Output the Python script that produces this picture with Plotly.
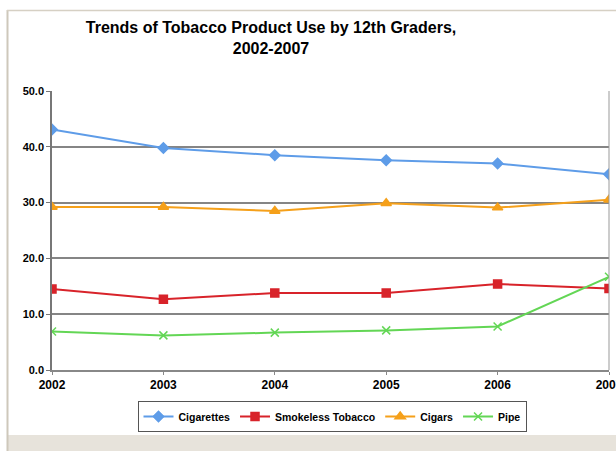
import plotly.graph_objects as go

years = [2002, 2003, 2004, 2005, 2006, 2007]
cigarettes = [43.1, 39.8, 38.5, 37.6, 37.0, 35.1]
smokeless = [14.5, 12.7, 13.8, 13.8, 15.4, 14.6]
cigars = [29.2, 29.2, 28.5, 29.9, 29.1, 30.5]
pipe = [6.9, 6.2, 6.7, 7.1, 7.8, 16.7]
y_ticks = [0, 10, 20, 30, 40, 50]
y_tick_labels = ["0.0", "10.0", "20.0", "30.0", "40.0", "50.0"]

FONT = "Arial, Liberation Sans, sans-serif"

series = [
    ("Cigarettes", cigarettes, "#5E9CE8", "diamond", 8),
    ("Smokeless Tobacco", smokeless, "#D8232A", "square", 8),
    ("Cigars", cigars, "#F5A01A", "triangle-up", 9),
    ("Pipe", pipe, "#63D655", "x-thin-open", 8),
]

fig = go.Figure()
for name, vals, color, sym, sz in series:
    fig.add_trace(go.Scatter(
        x=years, y=vals, name=f"<b>{name}</b>", mode="lines+markers",
        line=dict(color=color, width=2),
        marker=dict(symbol=sym, size=sz, color=color,
                    line=dict(color=color, width=1.5)),
    ))

L, R, T, B = 52, 7, 91, 81
W, H = 616, 451
pw, ph = W - L - R, H - T - B

def px(x):
    return (x - L) / pw

def py(y):
    return (H - B - y) / ph

shapes = [
    dict(type="rect", xref="paper", yref="paper", x0=px(8), x1=px(620),
         y0=py(435), y1=py(455), fillcolor="#E7E3DB", line=dict(width=0), layer="below"),
    dict(type="line", xref="paper", yref="paper", x0=px(7.5), x1=px(7.5),
         y0=py(10), y1=py(455), line=dict(color="#CEC8BB", width=2)),
    dict(type="line", xref="paper", yref="paper", x0=px(7), x1=px(620),
         y0=py(10.5), y1=py(10.5), line=dict(color="#D6D0C4", width=1.5)),
    dict(type="line", xref="paper", yref="paper", x0=1, x1=1, y0=0, y1=1,
         line=dict(color="#999999", width=1)),
]

fig.update_layout(
    width=W, height=H,
    margin=dict(l=L, r=R, t=T, b=B, autoexpand=False),
    paper_bgcolor="white", plot_bgcolor="white",
    font=dict(family=FONT, color="black"),
    title=dict(text="<b>Trends of Tobacco Product Use by 12th Graders,<br>2002-2007</b>",
               xref="container", x=271 / W, xanchor="center", y=1 - 33 / H, yanchor="middle",
               font=dict(size=16, family=FONT, color="black")),
    showlegend=True,
    legend=dict(orientation="h", x=px(332), xanchor="center", y=py(401), yanchor="top",
                bordercolor="#555555", borderwidth=1, bgcolor="white",
                font=dict(size=10.5, family=FONT, color="black"),
                itemwidth=30, tracegroupgap=0),
    shapes=shapes,
    xaxis=dict(range=[2002, 2007], tickvals=years, ticktext=[f"<b>{y}</b>" for y in years],
               showgrid=False, zeroline=False, showline=True, linecolor="#888888", linewidth=1.5,
               ticks="outside", ticklen=3, tickcolor="#888888", ticklabeloverflow="allow",
               automargin=False, tickfont=dict(size=12, family=FONT)),
    yaxis=dict(range=[0, 50], tickvals=y_ticks, ticktext=[f"<b>{t}</b>" for t in y_tick_labels],
               showgrid=True, gridcolor="#858585", gridwidth=1.5, zeroline=False,
               showline=True, linecolor="#777777", linewidth=1.5,
               ticks="outside", ticklen=4, tickcolor="#777777", automargin=False,
               tickfont=dict(size=11, family=FONT)),
)

fig.write_html("out.html")
